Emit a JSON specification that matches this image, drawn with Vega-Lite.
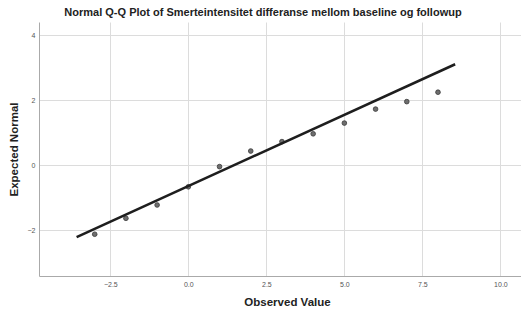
{
  "$schema": "https://vega.github.io/schema/vega-lite/v6.json",
  "autosize": "none",
  "width": 482,
  "height": 254,
  "padding": {"left": 39, "top": 22, "right": 0, "bottom": 33},
  "background": "white",
  "title": {
    "text": "Normal Q-Q Plot of Smerteintensitet differanse mellom baseline og followup",
    "anchor": "middle",
    "dx": -17,
    "offset": 4,
    "fontSize": 11,
    "fontWeight": "bold",
    "font": "Liberation Sans",
    "color": "#222"
  },
  "config": {
    "view": {"stroke": null},
    "axis": {
      "grid": true,
      "gridColor": "#dcdcdc",
      "gridWidth": 1,
      "domainColor": "#aaaaaa",
      "domainWidth": 1,
      "ticks": false,
      "labelFont": "Liberation Sans",
      "labelFontSize": 7,
      "labelColor": "#555555",
      "titleFont": "Liberation Sans",
      "titleFontSize": 11.5,
      "titleFontWeight": "bold",
      "titleColor": "#222"
    }
  },
  "layer": [
    {
      "data": {"values": [
        {"observed": -3, "expected": -2.13},
        {"observed": -2, "expected": -1.64},
        {"observed": -1, "expected": -1.23},
        {"observed": 0, "expected": -0.67},
        {"observed": 1, "expected": -0.05},
        {"observed": 2, "expected": 0.43},
        {"observed": 3, "expected": 0.72},
        {"observed": 4, "expected": 0.96},
        {"observed": 5, "expected": 1.29},
        {"observed": 6, "expected": 1.72},
        {"observed": 7, "expected": 1.95},
        {"observed": 8, "expected": 2.24}
      ]},
      "mark": {"type": "point", "filled": true, "size": 22, "color": "#6e6e6e", "stroke": "#3a3a3a", "strokeWidth": 0.8, "opacity": 1},
      "encoding": {
        "x": {
          "field": "observed", "type": "quantitative",
          "scale": {"domain": [-4.785, 10.66], "nice": false, "zero": false},
          "axis": {"title": "Observed Value", "values": [-2.5, 0, 2.5, 5, 7.5, 10], "format": ".1f", "labelPadding": 4, "titleX": 248, "titleY": 29, "titleBaseline": "alphabetic", "titleAlign": "center"}
        },
        "y": {
          "field": "expected", "type": "quantitative",
          "scale": {"domain": [-3.415, 4.4], "nice": false, "zero": false},
          "axis": {"title": "Expected Normal", "values": [-2, 0, 2, 4], "format": "d", "labelPadding": 4, "titleX": -25, "titleY": 127, "titleBaseline": "middle", "titleAlign": "center", "titleAngle": -90}
        }
      }
    },
    {
      "data": {"values": [
        {"observed": -3.58, "expected": -2.22},
        {"observed": 8.55, "expected": 3.10}
      ]},
      "mark": {"type": "line", "color": "#1e1e1e", "strokeWidth": 2.5},
      "encoding": {
        "x": {"field": "observed", "type": "quantitative"},
        "y": {"field": "expected", "type": "quantitative"}
      }
    }
  ]
}
